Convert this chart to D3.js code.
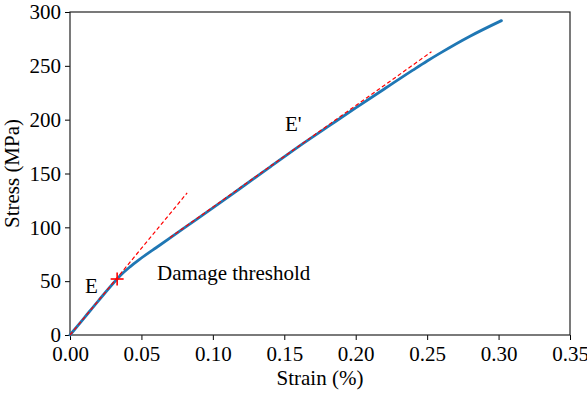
<!DOCTYPE html>
<html>
<head>
<meta charset="utf-8">
<script src="https://cdn.jsdelivr.net/npm/d3@7/dist/d3.min.js"></script>
<style>
  html, body { margin: 0; padding: 0; background: #fff; }
  svg { display: block; }
  text { font-family: "Liberation Serif", "Times New Roman", serif; fill: #000; }
</style>
</head>
<body>
<svg id="chart" width="587" height="393"></svg>
<script>
// Measured stress-strain response
const strain = [0, 0.01, 0.02, 0.033, 0.037, 0.042, 0.048, 0.055, 0.06, 0.08, 0.10, 0.12, 0.14, 0.16, 0.18, 0.20, 0.22, 0.24, 0.25, 0.26, 0.28, 0.302];
const stress = [0, 16, 32, 52, 57.5, 63.3, 69.5, 76.2, 80.8, 99.5, 118, 137, 156, 175, 193, 211, 228.5, 246, 254.5, 262.5, 277.5, 292];

// Initial modulus E (fitted up to the damage threshold)
const initialFitStrain = [0, 0.082];
const initialFitStress = [0, 132];

// Secant modulus E' after damage onset
const damagedFitStrain = [0.07, 0.253];
const damagedFitStress = [90.5, 263];

// Damage threshold point
const thresholdStrain = [0.033];
const thresholdStress = [52];

const xTicks = [0, 0.05, 0.10, 0.15, 0.20, 0.25, 0.30, 0.35];
const yTicks = [0, 50, 100, 150, 200, 250, 300];

const svg = d3.select("#chart");
const plotLeft = 70, plotRight = 570, plotTop = 12, plotBottom = 335;
const fontSize = "21px";

const x = d3.scaleLinear().domain([0, 0.35]).range([plotLeft, plotRight]);
const y = d3.scaleLinear().domain([0, 300]).range([plotBottom, plotTop]);

// Axes
const xAxis = svg.append("g")
  .attr("transform", `translate(0,${plotBottom})`)
  .call(d3.axisBottom(x).tickValues(xTicks).tickFormat(d3.format(".2f")).tickSize(5).tickPadding(4));
const yAxis = svg.append("g")
  .attr("transform", `translate(${plotLeft},0)`)
  .call(d3.axisLeft(y).tickValues(yTicks).tickFormat(d3.format("d")).tickSize(5).tickPadding(4));

[xAxis, yAxis].forEach(g => {
  g.selectAll("text").style("font-size", fontSize).style("font-family", '"Liberation Serif", serif');
  g.selectAll("line").attr("stroke", "#000").attr("stroke-width", 1);
  g.select(".domain").remove();
});
xAxis.selectAll("text").attr("dy", "0.8em");
yAxis.selectAll("text").attr("dy", "0.32em");

// Frame
svg.append("rect")
  .attr("x", plotLeft).attr("y", plotTop)
  .attr("width", plotRight - plotLeft).attr("height", plotBottom - plotTop)
  .attr("fill", "none").attr("stroke", "#222").attr("stroke-width", 1.2);

// Main curve
svg.append("path")
  .datum(d3.zip(strain, stress))
  .attr("fill", "none")
  .attr("stroke", "#1f77b4")
  .attr("stroke-width", 2.8)
  .attr("stroke-linecap", "round")
  .attr("d", d3.line().x(d => x(d[0])).y(d => y(d[1])).curve(d3.curveMonotoneX));

// Modulus fits
const dashLine = d3.line().x(d => x(d[0])).y(d => y(d[1]));
[[initialFitStrain, initialFitStress], [damagedFitStrain, damagedFitStress]].forEach(([xs, ys]) => {
  svg.append("path")
    .datum(d3.zip(xs, ys))
    .attr("fill", "none")
    .attr("stroke", "#ff0000")
    .attr("stroke-width", 1.2)
    .attr("stroke-dasharray", "4,2.5")
    .attr("d", dashLine);
});

// Damage threshold marker
svg.selectAll(".marker")
  .data(d3.zip(thresholdStrain, thresholdStress))
  .join("g")
  .attr("class", "marker")
  .attr("transform", d => `translate(${x(d[0])},${y(d[1])})`)
  .each(function () {
    const g = d3.select(this);
    g.append("line").attr("x1", -6.5).attr("x2", 6.5).attr("y1", 0).attr("y2", 0);
    g.append("line").attr("x1", 0).attr("x2", 0).attr("y1", -6.5).attr("y2", 6.5);
    g.selectAll("line").attr("stroke", "#ff0000").attr("stroke-width", 1.6);
  });

// Annotations
svg.append("text").attr("x", 85).attr("y", 293).style("font-size", fontSize).text("E");
svg.append("text").attr("x", 157).attr("y", 280).style("font-size", fontSize).text("Damage threshold");
svg.append("text").attr("x", 285).attr("y", 130.5).style("font-size", fontSize).text("E'");

// Axis titles
svg.append("text")
  .attr("x", (plotLeft + plotRight) / 2).attr("y", 385)
  .attr("text-anchor", "middle")
  .style("font-size", fontSize)
  .text("Strain (%)");
svg.append("text")
  .attr("transform", `translate(19,${(plotTop + plotBottom) / 2}) rotate(-90)`)
  .attr("text-anchor", "middle")
  .style("font-size", fontSize)
  .text("Stress (MPa)");
</script>
</body>
</html>
